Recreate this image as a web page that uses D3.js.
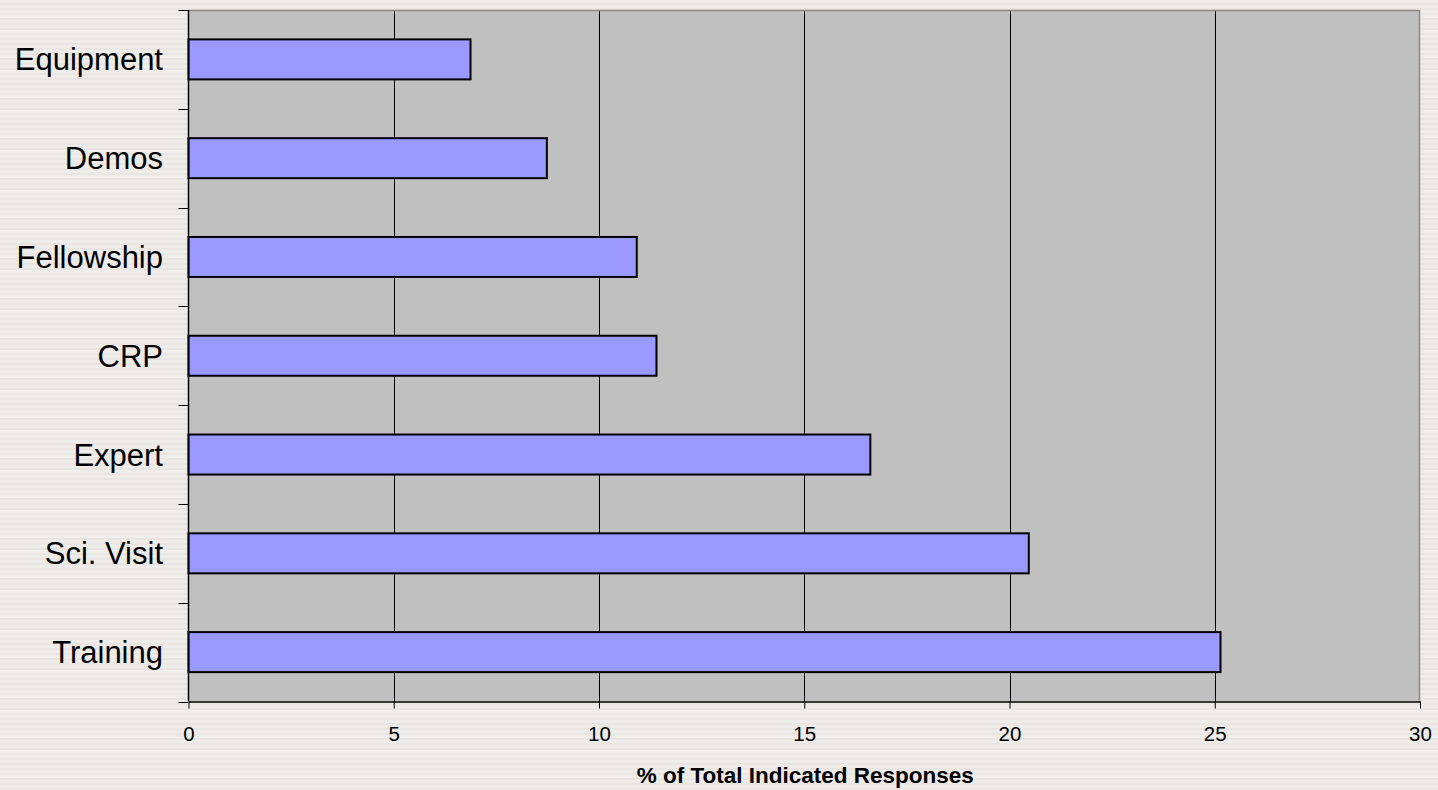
<!DOCTYPE html>
<html>
<head>
<meta charset="utf-8">
<script src="https://cdn.jsdelivr.net/npm/d3@7"></script>
<style>
  html, body { margin: 0; padding: 0; background: #eeebe8; }
  svg { display: block; }
</style>
</head>
<body>
<svg id="chart" width="1438" height="790"></svg>
<script>
const categories = ["Equipment", "Demos", "Fellowship", "CRP", "Expert", "Sci. Visit", "Training"];
const values = [6.87, 8.73, 10.92, 11.40, 16.61, 20.47, 25.14];
const xTicks = [0, 5, 10, 15, 20, 25, 30];
const xTitle = "% of Total Indicated Responses";

(function () {
const svg = d3.select("#chart");
const W = 1438, H = 790;
const pL = 188.5, pR = 1420, pT = 10, pB = 701.5;

// striped background
const defs = svg.append("defs");
const pat = defs.append("pattern").attr("id", "stripes").attr("patternUnits", "userSpaceOnUse")
  .attr("width", 10).attr("height", 5);
pat.append("rect").attr("width", 10).attr("height", 5).attr("fill", "#efedea");
pat.append("rect").attr("y", 3).attr("width", 10).attr("height", 2).attr("fill", "#e8e5e2");
svg.append("rect").attr("width", W).attr("height", H).attr("fill", "url(#stripes)");

const x = d3.scaleLinear().domain([0, 30]).range([pL, pR]);
const y = d3.scaleBand().domain(categories).range([pT, pB]).padding(0);

// plot background
svg.append("rect").attr("x", pL).attr("y", pT).attr("width", pR - pL).attr("height", pB - pT)
  .attr("fill", "#c0c0c0");

// gridlines
svg.append("g").selectAll("line").data(xTicks.filter(d => d > 0 && d < 30)).join("line")
  .attr("x1", d => Math.round(x(d)) + 0.5).attr("x2", d => Math.round(x(d)) + 0.5)
  .attr("y1", pT).attr("y2", pB)
  .attr("stroke", "#000").attr("stroke-width", 1);

// plot border (top/right gray)
svg.append("path")
  .attr("d", `M${pL},${pT + 0.5}H${pR - 0.5}V${pB}`)
  .attr("fill", "none").attr("stroke", "#8a8a8a").attr("stroke-width", 1.5);

// bars
const barH = y.bandwidth() * 0.405;
svg.append("g").selectAll("rect").data(categories).join("rect")
  .attr("x", x(0))
  .attr("y", d => y(d) + (y.bandwidth() - barH) / 2)
  .attr("width", (d, i) => x(values[i]) - x(0))
  .attr("height", barH)
  .attr("fill", "#9999ff")
  .attr("stroke", "#000")
  .attr("stroke-width", 2);

// x axis
const xAxis = d3.axisBottom(x).tickValues(xTicks).tickSize(7).tickSizeOuter(0).tickPadding(18);
const gx = svg.append("g").attr("transform", `translate(0,${pB})`).call(xAxis);
gx.select(".domain").attr("stroke", "#000").attr("stroke-width", 1.5);
gx.selectAll(".tick line").attr("stroke", "#000");
gx.selectAll(".tick text").attr("font-family", "Liberation Sans, Arial, sans-serif")
  .attr("font-size", 20.5).attr("fill", "#000");

// y axis: ticks at band boundaries
const bounds = categories.map(d => y(d)).concat([pB]);
svg.append("g").selectAll("line").data(bounds).join("line")
  .attr("x1", pL - 10).attr("x2", pL)
  .attr("y1", d => Math.round(d) + 0.5).attr("y2", d => Math.round(d) + 0.5)
  .attr("stroke", "#000").attr("stroke-width", 1);
svg.append("line").attr("x1", pL).attr("x2", pL).attr("y1", pT).attr("y2", pB)
  .attr("stroke", "#000").attr("stroke-width", 1.5);

// y labels
svg.append("g").selectAll("text").data(categories).join("text")
  .attr("x", 163)
  .attr("y", d => y(d) + y.bandwidth() / 2 + 11)
  .attr("text-anchor", "end")
  .attr("font-family", "Liberation Sans, Arial, sans-serif")
  .attr("font-size", 31)
  .attr("fill", "#000")
  .text(d => d);

// x title
svg.append("text")
  .attr("x", (pL + pR) / 2 + 1)
  .attr("y", 783)
  .attr("text-anchor", "middle")
  .attr("font-family", "Liberation Sans, Arial, sans-serif")
  .attr("font-weight", "bold")
  .attr("font-size", 22.5)
  .attr("fill", "#000")
  .text(xTitle);
})();
</script>
</body>
</html>
